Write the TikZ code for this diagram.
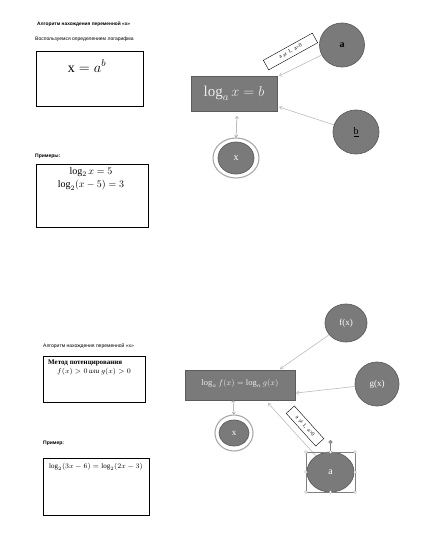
\documentclass[tikz,border=0pt]{standalone}
\usepackage{fontspec}
\setmainfont{Liberation Serif}
\setsansfont{Liberation Sans}
\usepackage{amsmath}
\usetikzlibrary{arrows.meta,shapes.geometric}
\definecolor{fillg}{HTML}{7A7A7A}
\definecolor{edgeg}{HTML}{5C5C5C}
\definecolor{arrg}{HTML}{BDBDBD}
\definecolor{ringg}{HTML}{A8A8A8}
\tikzset{
  ttl/.style={font=\sffamily\fontsize{5}{6}\selectfont, anchor=west, inner sep=0pt},
  wbox/.style={draw=black, line width=1pt, fill=white, inner sep=0pt},
  gbox/.style={draw=edgeg, line width=0.6pt, fill=fillg, inner sep=0pt, text=white!93!black},
  gcirc/.style={ellipse, draw=edgeg, line width=0.7pt, fill=fillg, inner sep=0pt},
  ring/.style={ellipse, draw=ringg, line width=1.1pt, fill=white, inner sep=0pt},
  conn/.style={draw=arrg, line width=0.6pt, -{Straight Barb[length=2.5pt,width=3.5pt]}},
  dconn/.style={draw=arrg!80!black, line width=0.5pt, {Straight Barb[length=2pt,width=3pt]}-{Straight Barb[length=2pt,width=3pt]}},
  condbox/.style={draw=black, line width=0.4pt, fill=white, inner sep=0pt, minimum height=11pt, font=\fontsize{5.5}{6}\selectfont},
  hdl/.style={circle, draw=gray, fill=white, line width=0.3pt, minimum size=3pt, inner sep=0pt},
}
\begin{document}
\begin{tikzpicture}[x=1pt,y=-1pt]
\useasboundingbox[fill=white] (0,0) rectangle (428,555);

% ---------- top left ----------
\node[ttl, font=\sffamily\bfseries\fontsize{4.8}{6}\selectfont] (t1) at (37,24) {Алгоритм нахождения переменной «x»};
\node[ttl] (t2) at (35,39) {Воспользуемся определением логарифма};
\node[wbox, minimum width=107pt, minimum height=55pt] (b1) at (89.5,78.5) {};
\node[inner sep=0pt, font=\fontsize{14}{16}\selectfont] (f1) at (87,66) {$\mathrm{x} = a^{b}$};

\node[ttl, font=\sffamily\bfseries\fontsize{5}{6}\selectfont] (t3) at (35,156) {Примеры:};
\node[wbox, minimum width=112pt, minimum height=63pt] (b2) at (92,195.5) {};
\node[inner sep=0pt, font=\fontsize{10}{11}\selectfont] (f2) at (91,172) {$\log_2 x = 5$};
\node[inner sep=0pt, font=\fontsize{10}{11}\selectfont] (f3) at (91,185) {$\log_2(x-5) = 3$};

% ---------- top right ----------
\node[gbox, minimum width=86pt, minimum height=35pt] (R1) at (234,93.5) {\fontsize{15}{17}\selectfont\raisebox{4pt}{$\log_a x = b$}};
\node[gcirc, minimum width=45pt, minimum height=44pt] (A1) at (342,45) {\fontsize{10}{12}\selectfont\textbf{a}};
\node[gcirc, minimum width=46pt, minimum height=44pt] (B1) at (356,132) {\fontsize{10}{12}\selectfont\underline{b}};
\node[ring, minimum width=46pt, minimum height=40pt] (X1o) at (236,158) {};
\node[gcirc, minimum width=36pt, minimum height=32pt, text=white] (X1) at (236,158) {\fontsize{10}{12}\selectfont x};
\node[condbox, minimum width=56pt, rotate=29] (C1) at (290.5,51.5) {a $\neq$ 1,\ \ a>0};

\coordinate (pA1) at (279,76);
\coordinate (pB1) at (279,107);
\coordinate (pX1) at (237,116);
\draw[conn] (A1) -- (pA1);
\draw[conn] (B1) -- (pB1);
\draw[dconn] (pX1) -- (X1o.north);

% ---------- bottom left ----------
\node[ttl] (t4) at (43,346) {Алгоритм нахождения переменной «x»};
\node[wbox, minimum width=102pt, minimum height=46pt] (b3) at (94,379) {};
\node[inner sep=0pt, anchor=west, font=\bfseries\fontsize{7}{8}\selectfont] (m1) at (48,363) {Метод потенцирования};
\node[inner sep=0pt, font=\fontsize{7}{8}\selectfont] (m2) at (94,371.5) {$f(x) > 0$ \textit{или} $g(x) > 0$};

\node[ttl, font=\sffamily\bfseries\fontsize{5}{6}\selectfont] (t5) at (43,443) {Пример:};
\node[wbox, minimum width=106pt, minimum height=57pt] (b4) at (96,486.5) {};
\node[inner sep=0pt, font=\fontsize{7}{8}\selectfont] (m3) at (96,467) {$\log_2(3x-6) = \log_2(2x-3)$};

% ---------- bottom right ----------
\node[gbox, minimum width=110pt, minimum height=30pt] (R2) at (240,385) {\fontsize{8.5}{10}\selectfont\raisebox{6pt}{$\log_a f(x) = \log_a g(x)$}};
\node[gcirc, minimum width=42pt, minimum height=38pt, text=white] (F2) at (346,323) {\fontsize{9}{11}\selectfont f(x)};
\node[gcirc, minimum width=44pt, minimum height=44pt, text=white] (G2) at (377,384) {\fontsize{9}{11}\selectfont g(x)};
\node[ring, minimum width=38pt, minimum height=36pt] (X2o) at (234,433) {};
\node[gcirc, minimum width=30pt, minimum height=26pt, text=white] (X2) at (234,433) {\fontsize{9}{11}\selectfont x};
\node[gcirc, minimum width=47pt, minimum height=40pt, text=white] (A2) at (330.5,472) {\fontsize{10}{12}\selectfont a};
\node[condbox, minimum width=44pt, rotate=-48] (C2) at (305,426) {a $\neq$ 1,\ \ a>0};

\coordinate (pF2) at (280,369);
\coordinate (pG2) at (296,393);
\coordinate (pA2) at (268,403);
\coordinate (pX2) at (233,400);
\draw[conn] (F2) -- (pF2);
\draw[conn] (G2) -- (pG2);
\draw[conn] (A2) -- (pA2);
\draw[dconn] (pX2) -- (X2o.north);

% selection frame around a
\draw[gray, line width=0.3pt] (306,452) rectangle (355,492);
\coordinate (rh) at (330.5,442);
\draw[gray, line width=0.3pt] (330.5,452) -- (rh);
\node[circle, fill=gray!80, draw=gray, minimum size=3.5pt, inner sep=0pt] (rot) at (rh) {};
\foreach \p in {(306,452),(330.5,452),(355,452),(306,472),(355,472),(306,492),(330.5,492),(355,492)}
  \node[hdl] at \p {};
\end{tikzpicture}
\end{document}
